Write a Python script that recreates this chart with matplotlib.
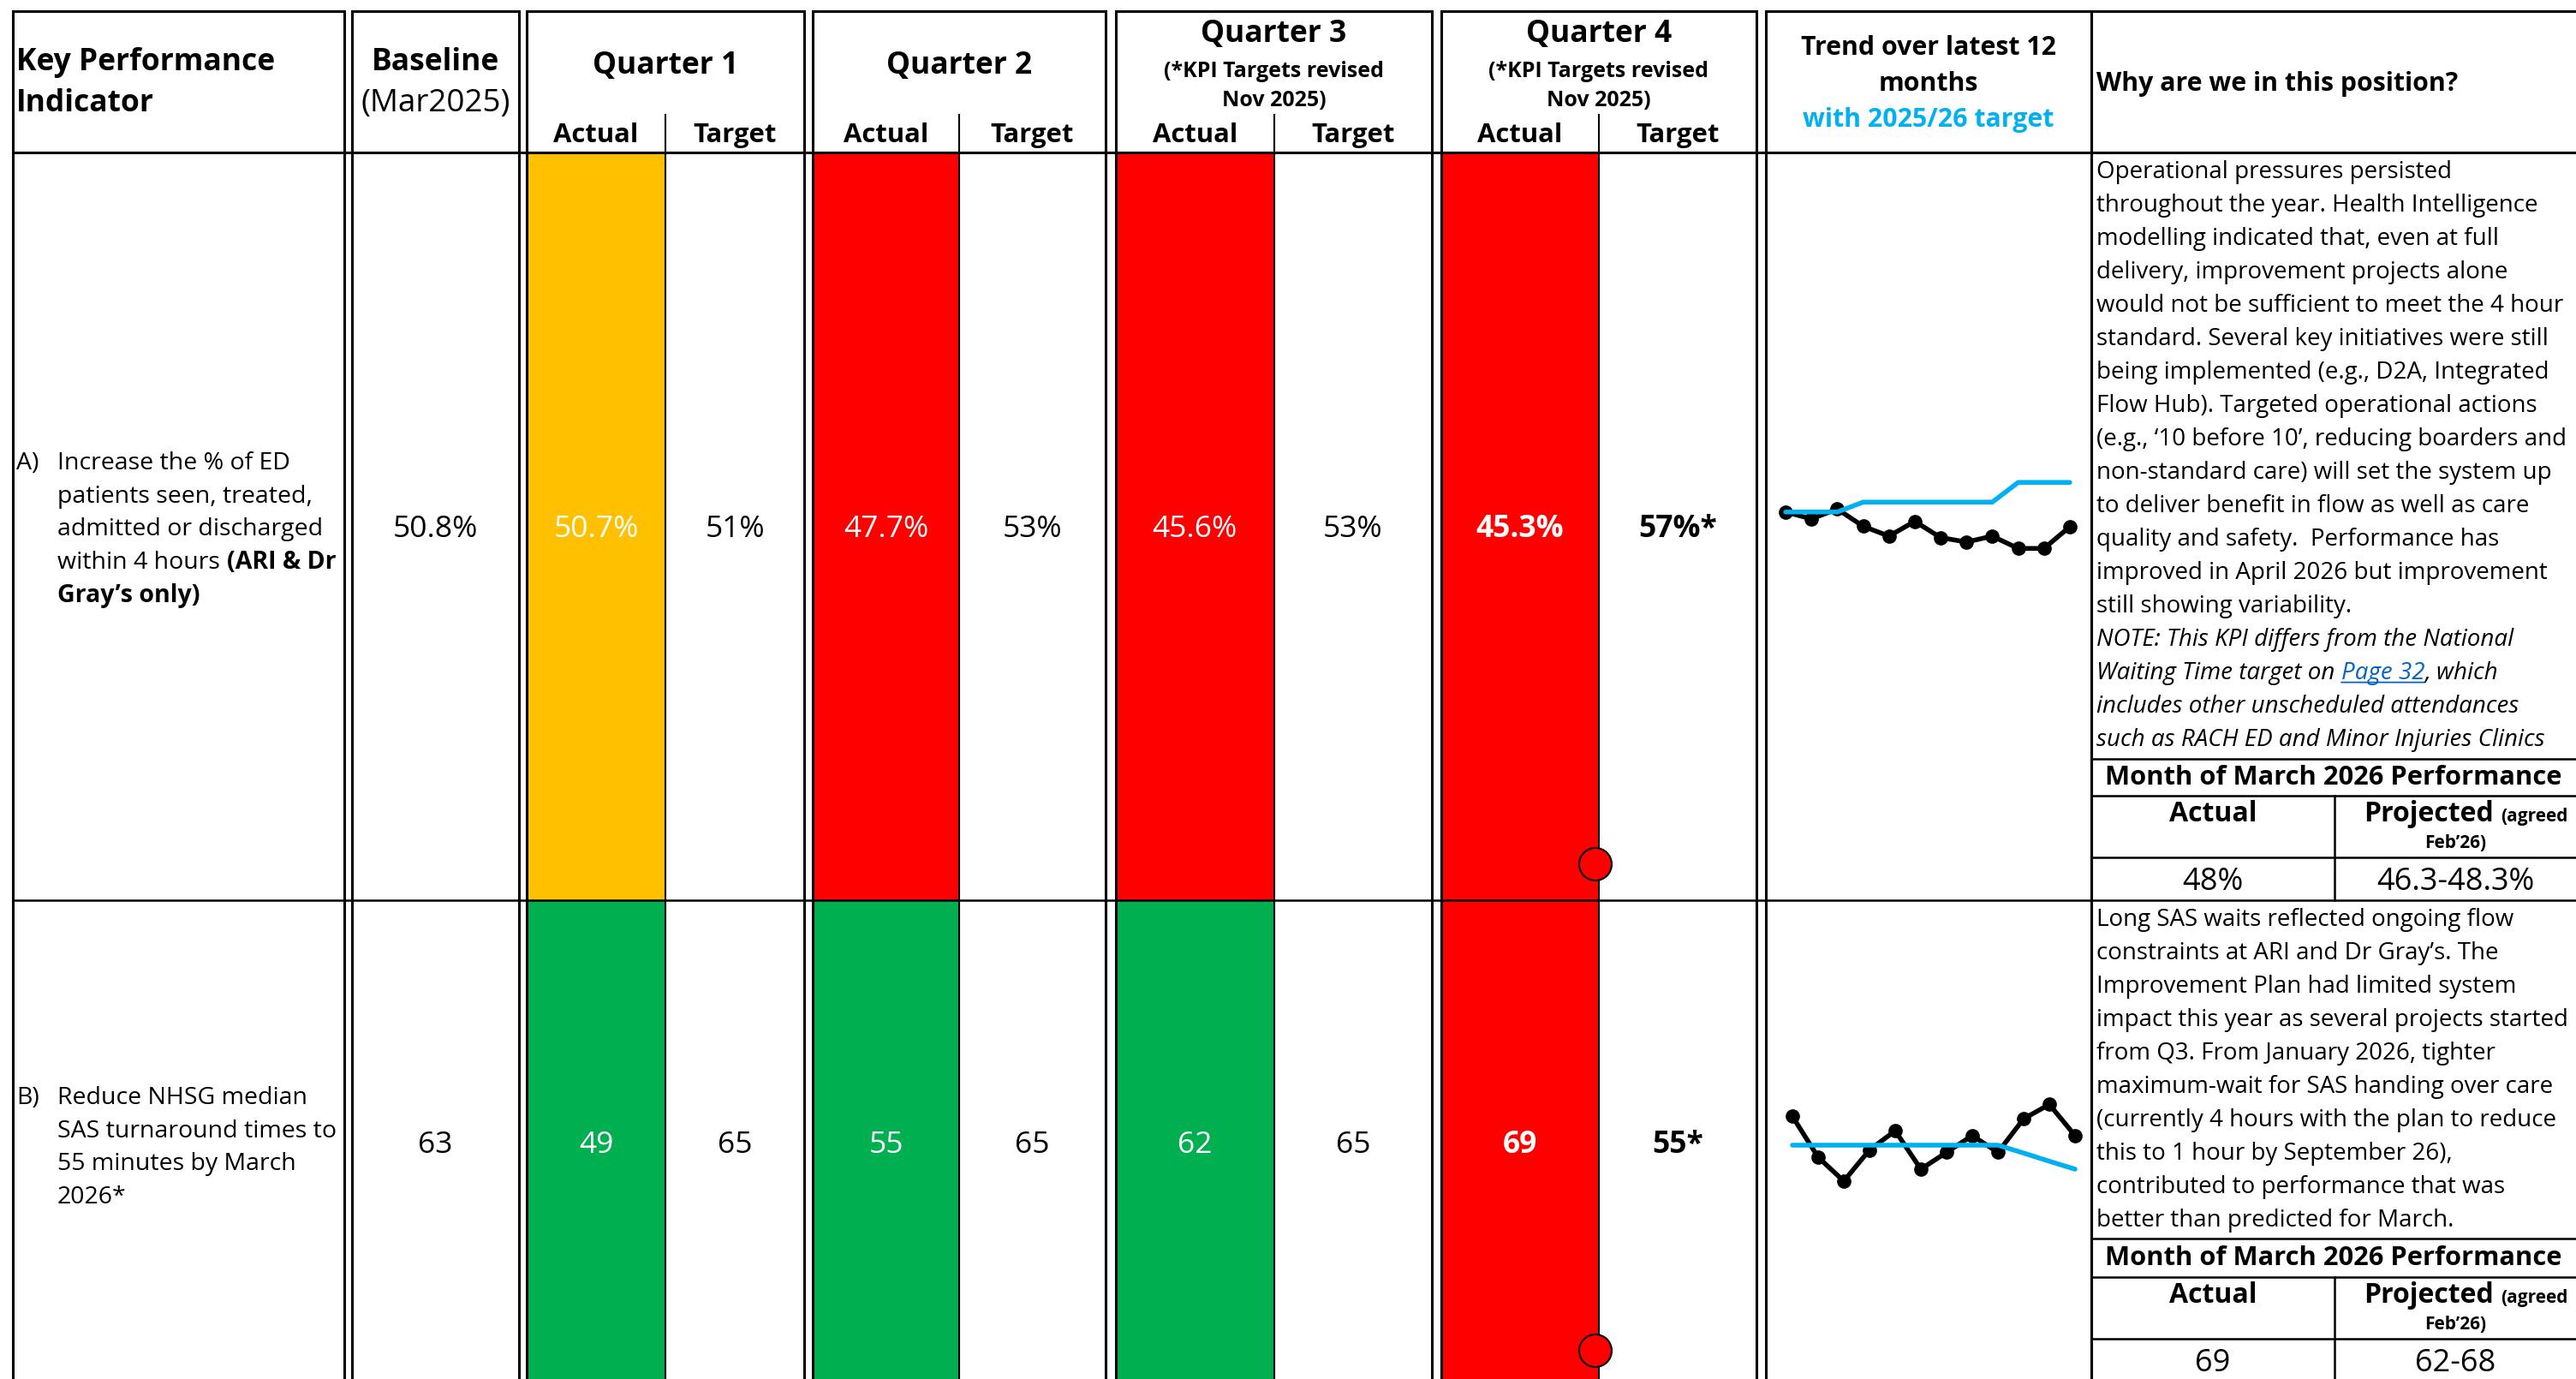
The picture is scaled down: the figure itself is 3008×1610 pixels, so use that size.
import matplotlib
matplotlib.use("Agg")
import matplotlib.pyplot as plt
from matplotlib.patches import Rectangle, Ellipse

plt.rcParams["font.family"] = ["Open Sans", "DejaVu Sans"]

W, H = 3008, 1610

# ---- values ----
quarters = ["Quarter 1", "Quarter 2", "Quarter 3", "Quarter 4"]
baseline = ["50.8%", "63"]
q_actual = [["50.7%", "47.7%", "45.6%", "45.3%"],
            ["49", "55", "62", "69"]]
q_target = [["51%", "53%", "53%", "57%*"],
            ["65", "65", "65", "55*"]]
q_status = [["amber", "red", "red", "red"],
            ["green", "green", "green", "red"]]
march_actual = ["48%", "69"]
march_projected = ["46.3-48.3%", "62-68"]

# monthly trend, Apr 2025 - Mar 2026
trend_a_actual = [51.0, 49.6, 51.6, 48.1, 46.1, 49.1, 45.8, 44.9, 46.1, 43.6, 43.6, 48.0]
trend_a_target = [51, 51, 51, 53, 53, 53, 53, 53, 53, 57, 57, 57]
trend_b_actual = [77, 60, 50, 63, 71, 55, 62, 69, 62, 76, 82, 69]
trend_b_target = [65, 65, 65, 65, 65, 65, 65, 65, 65, 61.7, 58.3, 55]

kpi_ids = ["A)", "B)"]
kpi_text = [
    [[("Increase the % of ED", False)],
     [("patients seen, treated,", False)],
     [("admitted or discharged", False)],
     [("within 4 hours", False), ("(ARI & Dr", True)],
     [("Gray’s only)", True)]],
    [[("Reduce NHSG median", False)],
     [("SAS turnaround times to", False)],
     [("55 minutes by March", False)],
     [("2026*", False)]],
]

why_a = [
    "Operational pressures persisted",
    "throughout the year. Health Intelligence",
    "modelling indicated that, even at full",
    "delivery, improvement projects alone",
    "would not be sufficient to meet the 4 hour",
    "standard. Several key initiatives were still",
    "being implemented (e.g., D2A, Integrated",
    "Flow Hub). Targeted operational actions",
    "(e.g., ‘10 before 10’, reducing boarders and",
    "non-standard care) will set the system up",
    "to deliver benefit in flow as well as care",
    "quality and safety.  Performance has",
    "improved in April 2026 but improvement",
    "still showing variability.",
]
why_a_note = [
    "NOTE: This KPI differs from the National",
    None,  # line with the page link
    "includes other unscheduled attendances",
    "such as RACH ED and Minor Injuries Clinics",
]
why_b = [
    "Long SAS waits reflected ongoing flow",
    "constraints at ARI and Dr Gray’s. The",
    "Improvement Plan had limited system",
    "impact this year as several projects started",
    "from Q3. From January 2026, tighter",
    "maximum-wait for SAS handing over care",
    "(currently 4 hours with the plan to reduce",
    "this to 1 hour by September 26),",
    "contributed to performance that was",
    "better than predicted for March.",
]

RAG = {"red": "#FF0000", "amber": "#FFC000", "green": "#00B050"}
CYAN = "#00B0F0"
LINK = "#0563C1"

# ---- layout (pixels) ----
TOP, SUB, HEAD = 13, 134, 178
ROWS = [(178, 1051), (1051, 1619)]
boxes = [(15, 402), (411, 606), (615, 939), (949, 1291),
         (1303, 1672), (1683, 2051), (2062, 2442), (2442, 3040)]
q_boxes = boxes[2:6]
WHY_X0, WHY_MID = 2442, 2726
sub_lines = [(886, 929, 1001), (1446, 1491, 1563)]
LW = 2.2

fig = plt.figure(figsize=(W / 100, H / 100), dpi=100)
ax = fig.add_axes([0, 0, 1, 1])
ax.set_xlim(0, W)
ax.set_ylim(H, 0)
ax.axis("off")


def runs(x, y, parts, size, gap=5.5, color="k", style="normal"):
    prev = None
    for txt, bold in parts:
        kw = dict(fontsize=size, fontweight="bold" if bold else "normal",
                  fontstyle=style, color=color, va="center", ha="left", zorder=6)
        if prev is None:
            prev = ax.text(x, y, txt, **kw)
        else:
            prev = ax.annotate(txt, xy=(1, 0.5), xycoords=prev, xytext=(gap, 0),
                               textcoords="offset points", **kw)
    return prev


# cell fills
for r, (y0, y1) in enumerate(ROWS):
    for q, (x0, x1) in enumerate(q_boxes):
        xm = (x0 + x1) / 2
        ax.add_patch(Rectangle((x0, y0), xm - x0, y1 - y0,
                               facecolor=RAG[q_status[r][q]], edgecolor="none", zorder=1))

# grid
for x0, x1 in boxes:
    ax.plot([x0, x0, x1, x1], [H + 30, TOP, TOP, H + 30], color="k", lw=LW,
            solid_joinstyle="miter", zorder=4)
ax.plot([15, W], [HEAD, HEAD], color="k", lw=LW, zorder=4)
ax.plot([15, W], [ROWS[0][1]] * 2, color="k", lw=1.8, zorder=4)
for x0, x1 in q_boxes:
    xm = (x0 + x1) / 2
    ax.plot([xm, xm], [SUB, H + 30], color="k", lw=1.5, zorder=4)
for r, (a, b, c) in enumerate(sub_lines):
    for y in (a, b, c):
        ax.plot([WHY_X0, W], [y, y], color="k", lw=1.8, zorder=4)
    ax.plot([WHY_MID, WHY_MID], [b, ROWS[r][1]], color="k", lw=1.8, zorder=4)

# header
HS = 25.5
ax.text(19, 73, "Key Performance", fontsize=HS, fontweight="bold", va="center")
ax.text(19, 121, "Indicator", fontsize=HS, fontweight="bold", va="center")
bx = sum(boxes[1]) / 2
ax.text(bx, 73, "Baseline", fontsize=HS, fontweight="bold", ha="center", va="center")
ax.text(bx, 121, "(Mar2025)", fontsize=26.5, ha="center", va="center")
for q, (x0, x1) in enumerate(q_boxes):
    xc = (x0 + x1) / 2
    if q < 2:
        ax.text(xc, 77, quarters[q], fontsize=HS, fontweight="bold", ha="center", va="center")
    else:
        ax.text(xc, 40, quarters[q], fontsize=HS, fontweight="bold", ha="center", va="center")
        ax.text(xc, 84, "(*KPI Targets revised", fontsize=18, fontweight="bold", ha="center", va="center")
        ax.text(xc, 118, "Nov 2025)", fontsize=18, fontweight="bold", ha="center", va="center")
    ax.text((x0 + xc) / 2, 158, "Actual", fontsize=22.3, fontweight="bold", ha="center", va="center")
    ax.text((xc + x1) / 2, 158, "Target", fontsize=22.3, fontweight="bold", ha="center", va="center")
tx = sum(boxes[6]) / 2
ax.text(tx, 56, "Trend over latest 12", fontsize=21.8, fontweight="bold", ha="center", va="center")
ax.text(tx, 98, "months", fontsize=21.8, fontweight="bold", ha="center", va="center")
ax.text(tx, 140, "with 2025/26 target", fontsize=21.8, fontweight="bold", color=CYAN,
        ha="center", va="center")
ax.text(2448, 98, "Why are we in this position?", fontsize=21.8, fontweight="bold", va="center")

# KPI descriptions
kpi_y0 = [541, 1282]
for r in range(2):
    ax.text(19, kpi_y0[r], kpi_ids[r], fontsize=20.5, va="center")
    for i, parts in enumerate(kpi_text[r]):
        runs(67, kpi_y0[r] + i * 38.5, parts, 20.5)

# values
VS = 25.5
row_mid = [618, 1337]
for r in range(2):
    y = row_mid[r]
    ax.text(bx, y, baseline[r], fontsize=VS, ha="center", va="center")
    for q, (x0, x1) in enumerate(q_boxes):
        xc = (x0 + x1) / 2
        bold = "bold" if q == 3 else "normal"
        ax.text((x0 + xc) / 2, y, q_actual[r][q], fontsize=VS, fontweight=bold,
                color="white", ha="center", va="center", zorder=6)
        ax.text((xc + x1) / 2, y, q_target[r][q], fontsize=VS, fontweight=bold,
                ha="center", va="center", zorder=6)
    # red status marker on the Q4 cell
    xm4 = sum(q_boxes[3]) / 2
    ax.add_patch(Ellipse((xm4 - 4, ROWS[r][1] - 42), 38, 38, facecolor="#FF0000",
                         edgecolor="k", lw=1.5, zorder=7))

# why text
WS, STEP = 20, 39
for i, line in enumerate(why_a):
    ax.text(2448, 201 + i * STEP, line, fontsize=WS, va="center")
for j, line in enumerate(why_a_note):
    y = 201 + (len(why_a) + j) * STEP
    if line is None:
        t1 = ax.text(2448, y, "Waiting Time target on", fontsize=WS, fontstyle="italic", va="center")
        t2 = ax.annotate("Page 32", xy=(1, 0.5), xycoords=t1, xytext=(5.5, 0),
                         textcoords="offset points", fontsize=WS, fontstyle="italic",
                         color=LINK, va="center", ha="left")
        ax.annotate("", xy=(1, 0.12), xycoords=t2, xytext=(0, 0.12), textcoords=t2,
                    arrowprops=dict(arrowstyle="-", color=LINK, lw=1.3, shrinkA=0, shrinkB=0))
        ax.annotate(", which", xy=(1, 0.5), xycoords=t2, xytext=(0, 0),
                    textcoords="offset points", fontsize=WS, fontstyle="italic",
                    va="center", ha="left")
    else:
        ax.text(2448, y, line, fontsize=WS, fontstyle="italic", va="center")
for i, line in enumerate(why_b):
    ax.text(2448, 1074 + i * STEP, line, fontsize=WS, va="center")

# March 2026 sub-table
xa = (WHY_X0 + WHY_MID) / 2
xp = (WHY_MID + W) / 2
for r, (a, b, c) in enumerate(sub_lines):
    ax.text((WHY_X0 + W) / 2, (a + b) / 2, "Month of March 2026 Performance", fontsize=22.2,
            fontweight="bold", ha="center", va="center")
    ax.text(xa, b + 21, "Actual", fontsize=23, fontweight="bold", ha="center", va="center")
    ax.text(2912, b + 21, "Projected", fontsize=23, fontweight="bold", ha="right", va="center")
    ax.text(2920, b + 24, "(agreed", fontsize=15, fontweight="bold", ha="left", va="center")
    ax.text(xp, b + 55, "Feb’26)", fontsize=15, fontweight="bold", ha="center", va="center")
    ax.text(xa, c + 29, march_actual[r], fontsize=26, ha="center", va="center")
    ax.text(xp, c + 29, march_projected[r], fontsize=26, ha="center", va="center")


# sparklines
def spark(x0, x1, y0, y1, ylim, actual, target):
    a = fig.add_axes([x0 / W, 1 - y1 / H, (x1 - x0) / W, (y1 - y0) / H])
    a.patch.set_alpha(0)
    a.set_xlim(-0.5, len(actual) - 0.5)
    a.set_ylim(*ylim)
    a.axis("off")
    months = list(range(len(actual)))
    a.plot(months, actual, color="k", lw=4, marker="o", ms=11, clip_on=False)
    a.plot(months, target, color=CYAN, lw=4, solid_capstyle="round", clip_on=False)


spark(2070, 2432, 546, 661, (40, 60), trend_a_actual, trend_a_target)
spark(2078, 2438, 1267, 1407, (40, 90), trend_b_actual, trend_b_target)

fig.savefig("out.png", dpi=100)
